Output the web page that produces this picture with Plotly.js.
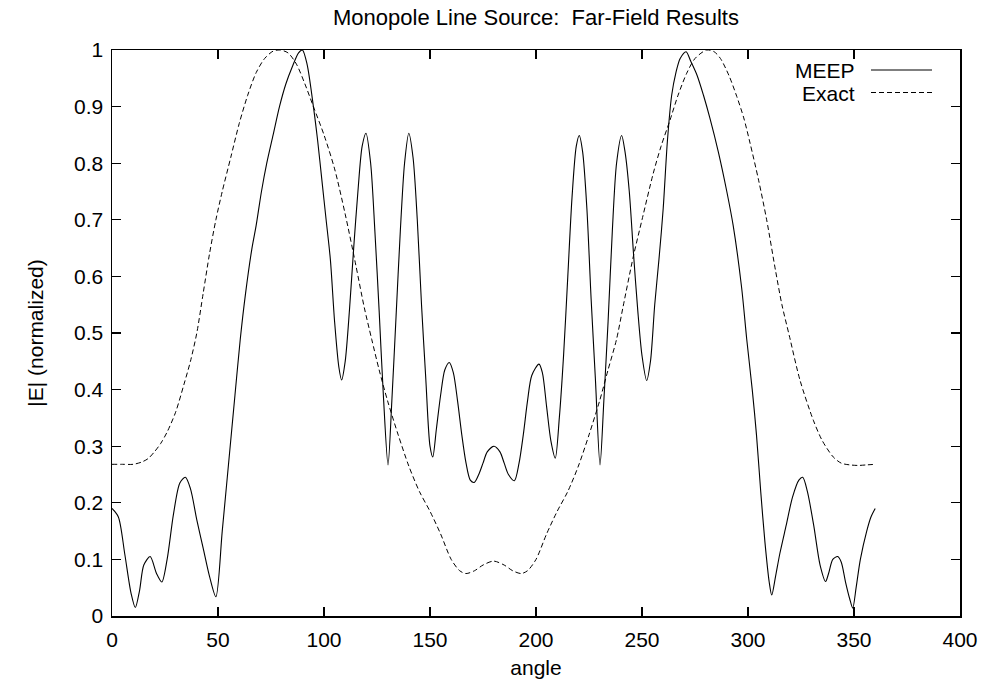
<!DOCTYPE html>
<html>
<head>
<meta charset="utf-8">
<script src="https://cdn.plot.ly/plotly-3.0.1.min.js"></script>
<style>html,body{margin:0;padding:0;background:#fff;}#chart{width:985px;height:688px;}</style>
</head>
<body>
<div id="chart"></div>
<script>
// MEEP far-field result (angle in degrees, normalized |E|)
const meepAngle = [0,3,6,9,11,13,15,18,21,23.5,26,29,32,34.6,37,40,43,46,49,52,55,58,60.5,63,65.9,68,70.5,73,76,79,82,85,88,89.8,92,95,97,99,101,103,105,107,108.3,110,112,114,116,118,119.8,122,124,126,128,130.2,132,134,136,138,140,142,144,146,148,150,151.3,153,155,157,159.1,161,163,165,167,169,170.9,173,175,177,180.2,183,185,187,189.8,192,194,196,198,201.4,203,205,207,209.1,211,213,215,217,219,220.4,222,224,226,228,230.2,232,234,236,238,240.4,242,244,246,248,250,252.2,254,256,258,260,262,264,266,268,270.8,273,276,279,282,286,290,293,297,299.4,302,304,306,308,310,311.2,313,315,318,321,324,325.8,328,331,334,336.6,338,340,342.3,344,346,348,349.4,351,353,356,358,360];
const meepValue = [0.19,0.175,0.11,0.04,0.015,0.045,0.09,0.105,0.075,0.06,0.1,0.18,0.235,0.245,0.225,0.17,0.12,0.07,0.034,0.15,0.27,0.39,0.489,0.57,0.647,0.69,0.75,0.8,0.85,0.9,0.94,0.97,0.995,1.0,0.975,0.9,0.84,0.77,0.7,0.63,0.52,0.44,0.417,0.45,0.54,0.65,0.75,0.83,0.853,0.8,0.68,0.54,0.39,0.267,0.38,0.53,0.68,0.8,0.853,0.81,0.7,0.55,0.42,0.3,0.281,0.33,0.39,0.435,0.448,0.43,0.38,0.32,0.27,0.24,0.236,0.25,0.27,0.29,0.3,0.29,0.27,0.25,0.239,0.27,0.32,0.38,0.425,0.445,0.43,0.37,0.31,0.279,0.35,0.46,0.6,0.74,0.83,0.849,0.82,0.72,0.56,0.42,0.267,0.38,0.52,0.68,0.8,0.849,0.82,0.75,0.64,0.54,0.46,0.416,0.45,0.55,0.63,0.72,0.84,0.92,0.96,0.985,0.997,0.98,0.955,0.92,0.88,0.82,0.75,0.69,0.58,0.489,0.4,0.32,0.22,0.13,0.06,0.037,0.07,0.11,0.16,0.21,0.24,0.245,0.22,0.16,0.09,0.061,0.075,0.1,0.105,0.095,0.06,0.03,0.014,0.05,0.1,0.15,0.175,0.19];

// Exact far-field result
const exactAngle = [0,5,10,14,17,20,23,26,30,34,37,40,43,46,49,52,56,60,64,68,72,76,79.2,83,87,91,95,100,105,110,115,119,122.5,126,130,135,140,145,150,155,160,164,167,171,175,180,185,189,193,196,200,205,210,215,220,225,230,234,238,241,245.9,250,255.3,259,263.2,267,271.1,275,280.5,284,287,291,294.7,298,301,305,308.8,313,316,319.5,324.5,330.8,335,340.2,344,348,352,356,360];
const exactValue = [0.268,0.268,0.268,0.272,0.278,0.29,0.305,0.325,0.36,0.41,0.45,0.5,0.57,0.64,0.7,0.75,0.81,0.87,0.92,0.96,0.985,0.998,1.0,0.995,0.975,0.94,0.9,0.85,0.79,0.71,0.62,0.545,0.489,0.435,0.38,0.32,0.265,0.22,0.185,0.145,0.1,0.08,0.075,0.08,0.09,0.097,0.09,0.08,0.075,0.08,0.1,0.145,0.185,0.22,0.265,0.32,0.38,0.435,0.489,0.545,0.635,0.7,0.782,0.83,0.876,0.92,0.959,0.985,1.0,0.997,0.985,0.955,0.918,0.88,0.835,0.77,0.7,0.61,0.55,0.495,0.417,0.346,0.31,0.281,0.27,0.267,0.266,0.267,0.268];

const seriesNames = ["MEEP", "Exact"];
const xTicks = [0,50,100,150,200,250,300,350,400];
const yTicks = [0,0.1,0.2,0.3,0.4,0.5,0.6,0.7,0.8,0.9,1];
const yTickText = ["0","0.1","0.2","0.3","0.4","0.5","0.6","0.7","0.8","0.9","1"];

const FONT = "Liberation Sans, Arial, Helvetica, sans-serif";
const FS = 21;

const traces = [
  {x: meepAngle, y: meepValue, name: seriesNames[0], mode: "lines",
   line: {color: "#000", width: 1.1, shape: "spline", smoothing: 0.8}, showlegend: false, hoverinfo: "skip"},
  {x: exactAngle, y: exactValue, name: seriesNames[1], mode: "lines",
   line: {color: "#000", width: 1, dash: "5px,3px", shape: "spline", smoothing: 0.8}, showlegend: false, hoverinfo: "skip"}
];

const axisCommon = {
  showline: true, linecolor: "#000", linewidth: 1.5, mirror: "allticks",
  ticks: "inside", ticklen: 9, tickwidth: 1.3, tickcolor: "#000",
  showgrid: false, zeroline: false, tickfont: {family: FONT, size: FS, color: "#000"}
};

const layout = {
  width: 985, height: 688,
  paper_bgcolor: "#fff", plot_bgcolor: "#fff",
  margin: {l: 112, r: 25, t: 50, b: 72},
  font: {family: FONT, size: FS, color: "#000"},
  title: {text: "Monopole Line Source:  Far-Field Results", font: {family: FONT, size: 22, color: "#000"}, xref: "paper", x: 0.5, xanchor: "center", yref: "container", y: 1 - 17/688, yanchor: "middle"},
  xaxis: Object.assign({}, axisCommon, {range: [0, 400], tickvals: xTicks, ticktext: xTicks.map(String), ticklabelstandoff: 4,
    title: {text: "angle", font: {family: FONT, size: FS, color: "#000"}, standoff: 10}}),
  yaxis: Object.assign({}, axisCommon, {range: [0, 1], tickvals: yTicks, ticktext: yTickText, ticklabelstandoff: 3,
    title: {text: "|E| (normalized)", font: {family: FONT, size: FS, color: "#000"}, standoff: 24}}),
  showlegend: false,
  annotations: [
    {xref: "paper", yref: "paper", x: (857-112)/848, y: (616-70)/566, xanchor: "right", yanchor: "middle", text: seriesNames[0], showarrow: false, font: {family: FONT, size: FS, color: "#000"}},
    {xref: "paper", yref: "paper", x: (857-112)/848, y: (616-93)/566, xanchor: "right", yanchor: "middle", text: seriesNames[1], showarrow: false, font: {family: FONT, size: FS, color: "#000"}}
  ],
  shapes: [
    {type: "line", xref: "paper", yref: "paper", x0: (871-112)/848, x1: (932-112)/848, y0: (616-70)/566, y1: (616-70)/566, line: {color: "#000", width: 1.1}},
    {type: "line", xref: "paper", yref: "paper", x0: (871-112)/848, x1: (932-112)/848, y0: (616-92.5)/566, y1: (616-92.5)/566, line: {color: "#000", width: 1, dash: "5px,3px"}}
  ]
};

Plotly.newPlot("chart", traces, layout, {staticPlot: true, displayModeBar: false});
</script>
</body>
</html>
